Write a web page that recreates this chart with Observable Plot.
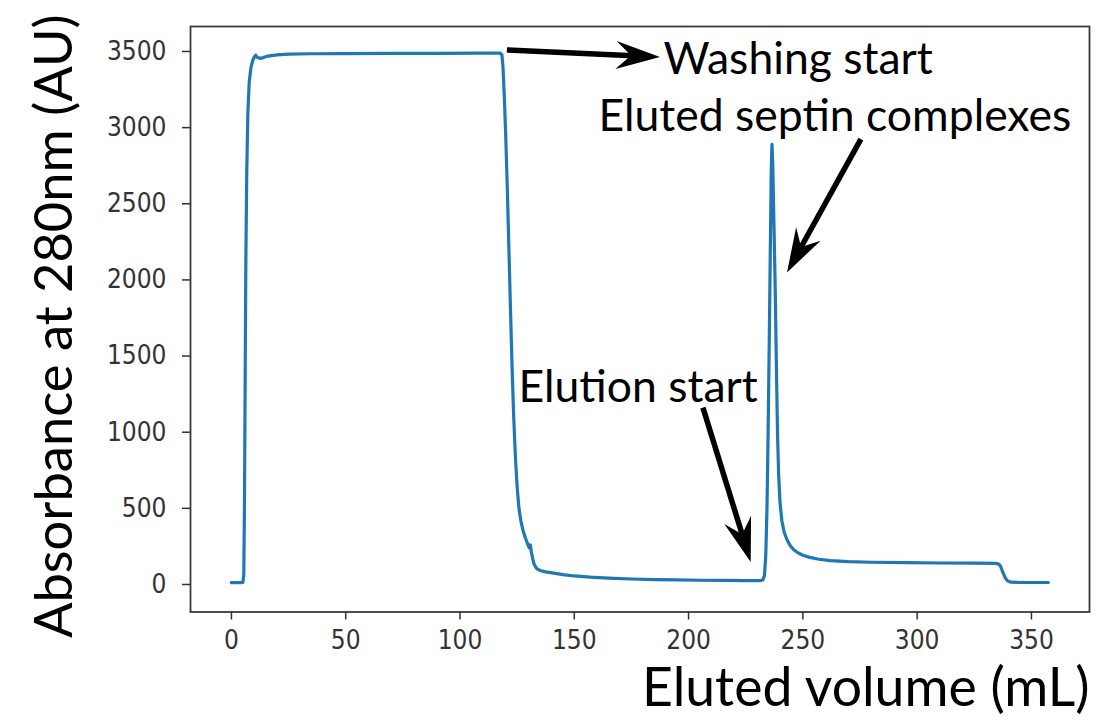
<!DOCTYPE html>
<html>
<head>
<meta charset="utf-8">
<script src="https://cdn.jsdelivr.net/npm/d3@7"></script>
<script src="https://cdn.jsdelivr.net/npm/@observablehq/plot@0.6"></script>
<style>
  body { margin: 0; background: #fff; }
  #chart svg { display: block; }
</style>
</head>
<body>
<div id="chart"></div>
<script>
// Eluted volume (mL)
const volume = [
  0, 2, 4, 5.0, 5.4, 5.7, 6.0, 6.3, 6.7, 7.2, 7.8, 8.5, 9.3, 10.0, 10.6, 11.2, 12.5, 14, 16, 20, 25, 35, 50, 70, 90, 110, 117.5,
  118.3, 118.8, 119.4, 120.0, 120.7, 121.4, 122.1, 122.8, 123.5, 124.2, 125.0, 125.8, 126.6, 127.5, 128.5, 129.5, 130.3, 130.8, 131.2, 131.8, 132.5, 133.5,
  135, 137.5, 141, 145, 150, 157, 165, 175, 185, 195, 205, 215, 225, 231.5,
  232.5, 233.2, 233.8, 234.3, 234.8, 235.3, 235.8, 236.2, 236.5, 236.8, 237.3, 237.9, 238.4, 238.9, 239.4, 240.0, 240.8, 241.8, 243, 244.5, 246, 248, 250, 253, 257, 262, 270, 280, 295, 310, 325, 334,
  335.5, 336.5, 337.5, 338.5, 339.5, 341, 345, 350, 357.4
];
// Absorbance at 280 nm (AU)
const absorbance = [
  12, 12, 12, 13, 60, 500, 1300, 2100, 2700, 3100, 3300, 3390, 3440, 3465, 3475, 3462, 3455, 3460, 3470, 3478, 3482, 3485, 3486, 3487, 3488, 3489, 3489,
  3480, 3400, 3200, 2950, 2600, 2200, 1800, 1420, 1100, 850, 640, 500, 420, 360, 310, 270, 240, 260, 215, 170, 130, 105,
  92, 83, 75, 65, 56, 48, 42, 36, 32, 30, 28, 27, 26, 26,
  30, 60, 200, 500, 1000, 1600, 2250, 2750, 2890, 2780, 2400, 1950, 1450, 1000, 720, 540, 420, 345, 295, 255, 228, 207, 192, 178, 166, 157, 150, 146, 143, 141, 140, 139,
  135, 120, 80, 45, 24, 15, 13, 13, 13
];
const xTicks = [0, 50, 100, 150, 200, 250, 300, 350];
const yTicks = [0, 500, 1000, 1500, 2000, 2500, 3000, 3500];

// Annotations (data units)
const noteLabels = ["Washing start", "Eluted septin complexes", "Elution start"];
const noteX = [189.0, 160.6, 125.6];
const noteY = [3447, 3072, 1289];
const arrowTailX = [120.75, 275.6, 206.5];
const arrowTailY = [3507, 2921, 1158];
const arrowTipX = [187.7, 243.3, 227.4];
const arrowTipY = [3461, 2046, 145];

const xLabel = "Eluted volume (mL)";
const yLabel = "Absorbance at 280nm (AU)";

const tickFont = "'DejaVu Sans Condensed', 'DejaVu Sans', sans-serif";
const noteFont = "Lato, 'Open Sans', sans-serif";
const fmt = d3.format("d");

const chart = Plot.plot({
  width: 1097,
  height: 720,
  marginLeft: 190,
  marginRight: 8,
  marginTop: 26,
  marginBottom: 108.5,
  style: { background: "#fff", fontFamily: noteFont },
  x: { domain: [-17.9, 375.4], ticks: xTicks, label: null },
  y: { domain: [-180.6, 3664], ticks: yTicks, label: null },
  marks: [
    Plot.axisX({ ticks: xTicks, tickFormat: fmt, tickSize: 8, tickPadding: 11, fontSize: 26, fontFamily: tickFont, color: "#333", strokeWidth: 1.5, label: null }),
    Plot.axisY({ ticks: yTicks, tickFormat: fmt, tickSize: 8, tickPadding: 16, fontSize: 26, fontFamily: tickFont, color: "#333", strokeWidth: 1.5, label: null }),
    Plot.frame({ stroke: "#3a3a3a", strokeWidth: 1.8 }),
    Plot.line(volume, { x: volume, y: absorbance, stroke: "#1f77b4", strokeWidth: 3.2, strokeLinejoin: "round" }),
    Plot.text(noteLabels, { x: noteX, y: noteY, text: d => d, textAnchor: "start", fontSize: 44.5, fontFamily: noteFont, fill: "#000" }),
    Plot.text([xLabel], { frameAnchor: "bottom-right", text: d => d, textAnchor: "end", lineAnchor: "middle", dx: 0, dy: 77, fontSize: 53.5, fontFamily: noteFont, fill: "#000" }),
    Plot.text([yLabel], { frameAnchor: "left", text: d => d, rotate: -90, textAnchor: "middle", lineAnchor: "middle", dx: -135, dy: 7, fontSize: 52.5, fontFamily: noteFont, fill: "#000" })
  ]
});

// Stealth-style filled arrows, positioned through the plot's own scales
const sx = chart.scale("x"), sy = chart.scale("y");
const g = d3.select(chart).append("g").attr("class", "arrows");
const headLen = 44, headHalf = 14, notch = 15, shaftW = 5.5;
for (let i = 0; i < arrowTipX.length; i++) {
  const tx = sx.apply(arrowTailX[i]), ty = sy.apply(arrowTailY[i]);
  const px = sx.apply(arrowTipX[i]), py = sy.apply(arrowTipY[i]);
  const L = Math.hypot(px - tx, py - ty);
  const ux = (px - tx) / L, uy = (py - ty) / L;
  const nx = -uy, ny = ux;
  const bx = px - ux * headLen, by = py - uy * headLen;
  const mx = px - ux * (headLen - notch), my = py - uy * (headLen - notch);
  g.append("line")
    .attr("x1", tx).attr("y1", ty).attr("x2", mx + ux * 2).attr("y2", my + uy * 2)
    .attr("stroke", "#000").attr("stroke-width", shaftW);
  g.append("path")
    .attr("d", `M${px},${py}L${bx + nx * headHalf},${by + ny * headHalf}L${mx},${my}L${bx - nx * headHalf},${by - ny * headHalf}Z`)
    .attr("fill", "#000");
}

document.getElementById("chart").appendChild(chart);
</script>
</body>
</html>
